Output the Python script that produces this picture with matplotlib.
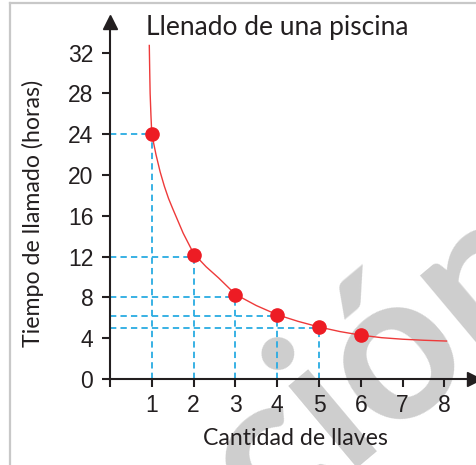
from matplotlib import pyplot as plt

# lectura del grafico
llaves = [1, 2, 3, 4, 5, 6]
horas = [24, 12.2, 8.2, 6.3, 5.1, 4.3]
guia_niveles = [24, 12, 8, 6.2, 5]

curva_x = [0.94, 0.95, 0.96, 0.98, 1.0, 1.1, 1.2, 1.3, 1.4, 1.5, 1.75, 2.0,
           2.3, 2.6, 3.0, 3.5, 4.0, 4.5, 5.0, 5.5, 6.0, 6.5, 7.0, 7.5, 8.05]
curva_y = [32.7, 30.2, 28.0, 25.8, 24.0, 22.0, 20.3, 18.9, 17.7, 16.7, 14.3,
           12.3, 11.0, 9.9, 8.3, 7.2, 6.3, 5.65, 5.1, 4.65, 4.3, 4.05, 3.9,
           3.8, 3.72]

xticks = [0, 1, 2, 3, 4, 5, 6, 7, 8]
xticklabels = ["", "1", "2", "3", "4", "5", "6", "7", "8"]
yticks = [0, 4, 8, 12, 16, 20, 24, 28, 32]

W, H = 477, 465
ink = "#231f20"
azul = "#29abe2"
rojo = "#ed1c24"
texto_font = "Lato"
num_font = "Liberation Sans"

fig = plt.figure(figsize=(W / 100, H / 100), dpi=100)
ax = fig.add_axes([110 / W, 1 - 379 / H, 363.7 / W, 357 / H])
ax.patch.set_visible(False)
ax.set_xlim(0, 8.7)
ax.set_ylim(0, 35)

# marca de agua
fig.text(380 / W, 1 - 365 / H, "ción", fontsize=150, color="#cecece",
         family=texto_font, weight="bold", rotation=40,
         rotation_mode="anchor", ha="center", va="center", zorder=-5)

# borde
fig.add_artist(plt.Line2D([10 / W, 10 / W], [0, 1 - 3 / H], color="#c8c8c8",
                          lw=1.6, transform=fig.transFigure))
fig.add_artist(plt.Line2D([10 / W, 1], [1 - 3 / H, 1 - 3 / H],
                          color="#c8c8c8", lw=1.6, transform=fig.transFigure))

# lineas guia
for xv, yv in zip(llaves[:5], guia_niveles):
    ax.plot([0, xv], [yv, yv], color=azul, lw=1.3, ls=(0, (3.5, 2.3)),
            zorder=2)
    ax.plot([xv, xv], [0, yv], color=azul, lw=1.3, ls=(0, (3.5, 2.3)),
            zorder=2)

ax.plot(curva_x, curva_y, color="#ee3a3a", lw=1.0, zorder=3)
ax.plot(llaves, horas, "o", color=rojo, ms=9.5, zorder=4)

for s in ["top", "right"]:
    ax.spines[s].set_visible(False)
for s in ["left", "bottom"]:
    ax.spines[s].set_color(ink)
    ax.spines[s].set_linewidth(1.5)
ax.plot(1, 0, ">", color=ink, ms=10, transform=ax.transAxes, clip_on=False)
ax.plot(0, 1, "^", color=ink, ms=10, transform=ax.transAxes, clip_on=False)

ax.set_xticks(xticks)
ax.set_xticklabels(xticklabels)
ax.set_yticks(yticks)
ax.tick_params(direction="out", length=6, width=1.5, color=ink,
               labelcolor=ink, labelsize=16.5)
ax.tick_params(axis="x", pad=5)
ax.tick_params(axis="y", pad=6)
for lab in ax.get_xticklabels() + ax.get_yticklabels():
    lab.set_family(num_font)

fig.text(277.5 / W, 1 - 35 / H, "Llenado de una piscina", fontsize=19,
         color=ink, family=texto_font, ha="center", va="baseline")
fig.text(295 / W, 1 - 445 / H, "Cantidad de llaves", fontsize=16.7,
         color=ink, family=texto_font, ha="center", va="baseline")
fig.text(33 / W, 1 - 213 / H, "Tiempo de llamado (horas)", fontsize=16.7,
         color=ink, family=texto_font, ha="center", va="center",
         rotation=90)

plt.savefig("out.png", dpi=100)
